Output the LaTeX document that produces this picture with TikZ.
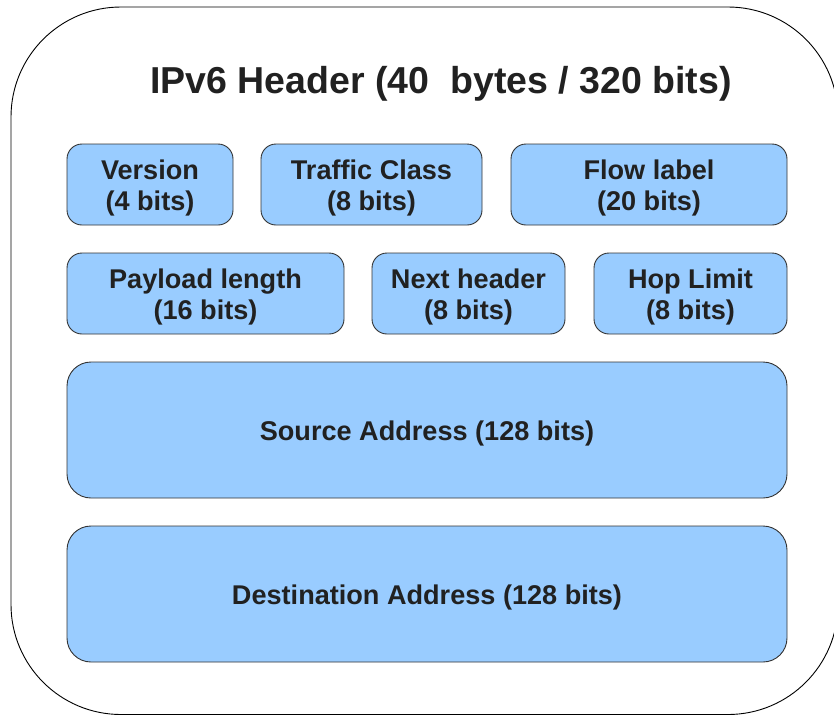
\documentclass[tikz,border=0pt]{standalone}
\usepackage{fontspec}
\setmainfont{Liberation Sans}
\begin{document}
\begin{tikzpicture}[x=1pt,y=-1pt,
  field/.style={draw=black!80, line width=0.9pt, fill=fieldblue, rounded corners=15pt,
    inner sep=0pt},
  bigfield/.style={field, rounded corners=24pt},
  fieldtext/.style={inner sep=0pt, align=center, text=black!87,
    font=\bfseries\fontsize{27.1}{31}\selectfont}]
\definecolor{fieldblue}{HTML}{99CCFF}
\useasboundingbox (0,0) rectangle (834,715);
\clip (0,0) rectangle (834,715);
\draw[line width=0.9pt, rounded corners=110pt] (11,7) rectangle (838,714.5);
\node[text=black!87, font=\bfseries\fontsize{37.5}{40}\selectfont] (title) at (441,84) {IPv6 Header (40\ \ bytes / 320 bits)};
\node[field, minimum width=166pt, minimum height=81pt] (version) at (150,184.5) {};
\node[field, minimum width=221pt, minimum height=81pt] (traffic) at (371.5,184.5) {};
\node[field, minimum width=276pt, minimum height=81pt] (flow) at (649,184.5) {};
\node[field, minimum width=277pt, minimum height=81pt] (payload) at (205.5,293.5) {};
\node[field, minimum width=193pt, minimum height=81pt] (next) at (468.5,293.5) {};
\node[field, minimum width=193pt, minimum height=81pt] (hop) at (690.5,293.5) {};
\node[bigfield, minimum width=720pt, minimum height=136pt] (src) at (427,430) {};
\node[bigfield, minimum width=720pt, minimum height=136pt] (dst) at (427,594) {};
\node[fieldtext] (versiont) at ([yshift=-3.5pt]version.center) {Version\\(4 bits)};
\node[fieldtext] (traffict) at ([yshift=-3.5pt]traffic.center) {Traffic Class\\(8 bits)};
\node[fieldtext] (flowt) at ([yshift=-3.5pt]flow.center) {Flow label\\(20 bits)};
\node[fieldtext] (payloadt) at ([yshift=-3.5pt]payload.center) {Payload length\\(16 bits)};
\node[fieldtext] (nextt) at ([yshift=-3.5pt]next.center) {Next header\\(8 bits)};
\node[fieldtext] (hopt) at ([yshift=-3.5pt]hop.center) {Hop Limit\\(8 bits)};
\node[fieldtext] (srct) at ([yshift=-3.5pt]src.center) {Source Address (128 bits)};
\node[fieldtext] (dstt) at ([yshift=-3.5pt]dst.center) {Destination Address (128 bits)};
\end{tikzpicture}
\end{document}
